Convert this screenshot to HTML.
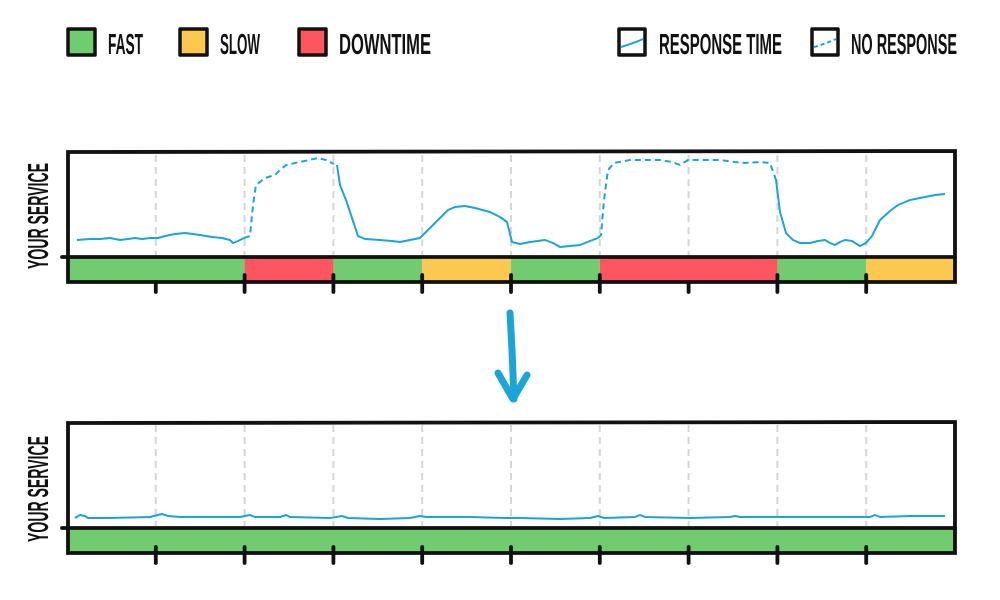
<!DOCTYPE html>
<html><head><meta charset="utf-8"><style>
html,body{margin:0;padding:0;background:#fff;}
svg{display:block}
text{font-family:"Liberation Sans Narrow","Liberation Sans",sans-serif;font-weight:bold;fill:#111}
</style></head><body>
<svg width="1000" height="600" viewBox="0 0 1000 600" xmlns="http://www.w3.org/2000/svg">
<!-- Legend -->
<g stroke="#111" stroke-width="3.5" stroke-linejoin="round">
<rect x="68" y="29" width="27" height="26" fill="#70cc6e"/>
<rect x="180" y="29" width="27" height="26" fill="#fdc84f"/>
<rect x="299" y="29" width="27" height="26" fill="#fe5660"/>
<rect x="619" y="29" width="26" height="26" fill="#fff"/>
<rect x="812" y="29" width="26" height="26" fill="#fff"/>
</g>
<path d="M621 47 Q632 44 643 39" stroke="#1ba4d8" stroke-width="2" fill="none"/>
<path d="M814 47 Q825 44 836 39" stroke="#1ba4d8" stroke-width="2" fill="none" stroke-dasharray="4,3"/>
<g font-size="29">
<text x="108" y="54" textLength="35" lengthAdjust="spacingAndGlyphs">FAST</text>
<text x="220" y="54" textLength="40" lengthAdjust="spacingAndGlyphs">SLOW</text>
<text x="339" y="54" textLength="92" lengthAdjust="spacingAndGlyphs">DOWNTIME</text>
<text x="659" y="54" textLength="123" lengthAdjust="spacingAndGlyphs">RESPONSE TIME</text>
<text x="851" y="54" textLength="106" lengthAdjust="spacingAndGlyphs">NO RESPONSE</text>
</g>

<!-- Top chart -->
<g stroke="#d6d6d6" stroke-width="2" stroke-dasharray="7,5">
<line x1="155.8" y1="155" x2="155.8" y2="255"/><line x1="244.6" y1="155" x2="244.6" y2="255"/>
<line x1="333.4" y1="155" x2="333.4" y2="255"/><line x1="422.2" y1="155" x2="422.2" y2="255"/>
<line x1="511" y1="155" x2="511" y2="255"/><line x1="599.8" y1="155" x2="599.8" y2="255"/>
<line x1="688.6" y1="155" x2="688.6" y2="255"/><line x1="777.4" y1="155" x2="777.4" y2="255"/>
<line x1="866.2" y1="155" x2="866.2" y2="255"/>
</g>
<rect x="68" y="257" width="176.6" height="25" fill="#70cc6e"/>
<rect x="244.6" y="257" width="88.8" height="25" fill="#fe5660"/>
<rect x="333.4" y="257" width="88.8" height="25" fill="#70cc6e"/>
<rect x="422.2" y="257" width="88.8" height="25" fill="#fdc84f"/>
<rect x="511" y="257" width="88.8" height="25" fill="#70cc6e"/>
<rect x="599.8" y="257" width="177.6" height="25" fill="#fe5660"/>
<rect x="777.4" y="257" width="88.8" height="25" fill="#70cc6e"/>
<rect x="866.2" y="257" width="88.8" height="25" fill="#fdc84f"/>
<g fill="none" stroke="#1ba4d8" stroke-width="2" stroke-linejoin="round">
<polyline points="77,240 90,239 100,239 110,238 120,240 128,239 135,238 142,239 150,238 158,238 165,236 175,234 185,233 193,234 200,235 212,237 222,238 230,240 233,243 238,241 244,238"/>
<polyline stroke-dasharray="6,4" points="244,238 250,236 253,205 256,185 265,178 275,175 280,170 286,165 300,162 318,158 326,160 334,164"/>
<polyline points="337,165 340,185 346,200 352,218 358,236 365,239 380,240 392,241 400,242 410,240 420,238 430,228 440,218 448,210 455,207 465,206 475,208 490,212 500,217 507,222 512,242 520,244 530,242 545,240 553,243 560,247 570,246 580,245 590,241 598,238"/>
<polyline stroke-dasharray="6,4" points="598,238 601,235 604,200 608,170 614,163 630,160 660,160 672,162 680,165 688,160 700,160 720,160 735,162 745,163 760,162 770,163 776,180"/>
<polyline points="776,180 780,212 786,233 793,240 800,243 810,243 818,241 825,240 830,243 835,245 840,242 845,240 852,241 860,246 866,243 872,236 880,220 890,211 898,205 910,200 925,197 935,195 945,194"/>
</g>
<g stroke="#111" stroke-width="3.8" fill="none" stroke-linecap="round">
<path d="M68 152 L955 151 L955 282 L68 282 Z"/>
<line x1="62" y1="257" x2="955" y2="257"/>
<line x1="155.8" y1="282" x2="155.8" y2="292"/><line x1="244.6" y1="275" x2="244.6" y2="292"/>
<line x1="333.4" y1="275" x2="333.4" y2="292"/><line x1="422.2" y1="275" x2="422.2" y2="292"/>
<line x1="511" y1="275" x2="511" y2="292"/><line x1="599.8" y1="275" x2="599.8" y2="292"/>
<line x1="688.6" y1="282" x2="688.6" y2="292"/><line x1="777.4" y1="275" x2="777.4" y2="292"/>
<line x1="866.2" y1="275" x2="866.2" y2="292"/>
</g>
<text transform="translate(48,269) rotate(-90)" font-size="29" textLength="106" lengthAdjust="spacingAndGlyphs">YOUR SERVICE</text>

<!-- Arrow -->
<g stroke="#1ba4d8" stroke-width="7" fill="none" stroke-linecap="round" stroke-linejoin="round">
<path d="M510 313 L512 350 L514 399"/>
<path d="M498 373 L513 399 L527 375"/>
</g>

<!-- Bottom chart -->
<g stroke="#d6d6d6" stroke-width="2" stroke-dasharray="7,5">
<line x1="155.8" y1="425" x2="155.8" y2="526"/><line x1="244.6" y1="425" x2="244.6" y2="526"/>
<line x1="333.4" y1="425" x2="333.4" y2="526"/><line x1="422.2" y1="425" x2="422.2" y2="526"/>
<line x1="511" y1="425" x2="511" y2="526"/><line x1="599.8" y1="425" x2="599.8" y2="526"/>
<line x1="688.6" y1="425" x2="688.6" y2="526"/><line x1="777.4" y1="425" x2="777.4" y2="526"/>
<line x1="866.2" y1="425" x2="866.2" y2="526"/>
</g>
<rect x="68" y="528" width="887" height="25" fill="#70cc6e"/>
<polyline fill="none" stroke="#1ba4d8" stroke-width="2" stroke-linejoin="round" points="75,518 80,515 85,516 88,518 110,518 150,517 158,515 162,514 168,516 180,517 240,517 250,515 255,517 280,517 286,515 290,517 330,518 342,516 348,518 380,519 410,518 420,516 426,517 470,517 505,518 520,518 560,519 590,518 598,516 604,518 635,517 640,515 645,517 690,518 730,517 735,516 740,517 800,517 830,517 870,517 875,515 880,517 910,516 945,516"/>
<g stroke="#111" stroke-width="3.8" fill="none" stroke-linecap="round">
<path d="M68 423 L955 422 L955 553 L68 553 Z"/>
<line x1="62" y1="528" x2="955" y2="528"/>
<line x1="155.8" y1="547" x2="155.8" y2="563"/><line x1="244.6" y1="547" x2="244.6" y2="563"/>
<line x1="333.4" y1="547" x2="333.4" y2="563"/><line x1="422.2" y1="547" x2="422.2" y2="563"/>
<line x1="511" y1="547" x2="511" y2="563"/><line x1="599.8" y1="547" x2="599.8" y2="563"/>
<line x1="688.6" y1="547" x2="688.6" y2="563"/><line x1="777.4" y1="547" x2="777.4" y2="563"/>
<line x1="866.2" y1="547" x2="866.2" y2="563"/>
</g>
<text transform="translate(48,542) rotate(-90)" font-size="29" textLength="106" lengthAdjust="spacingAndGlyphs">YOUR SERVICE</text>
</svg>
</body></html>
